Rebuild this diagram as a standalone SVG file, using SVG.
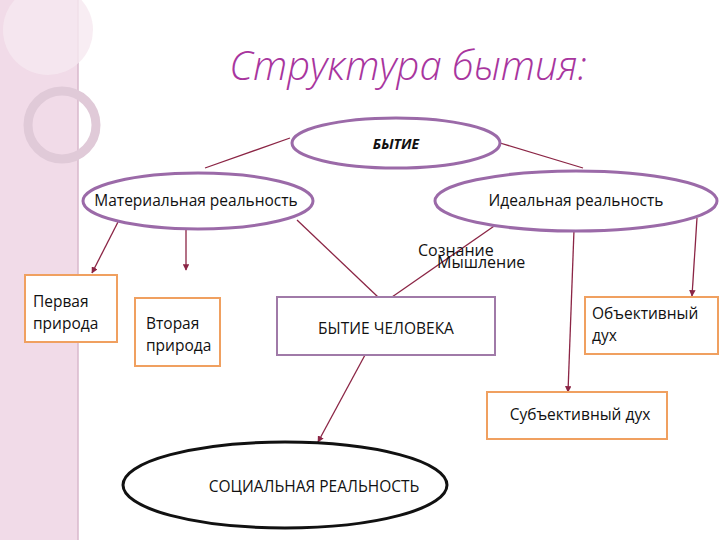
<svg xmlns="http://www.w3.org/2000/svg" width="720" height="540" viewBox="0 0 720 540">
<defs>
<style>
text{font-family:"Open Sans","Noto Sans","Liberation Sans",sans-serif;fill:#111;font-size:15.5px}
.pe{fill:#fff;stroke:#9b6aa8;stroke-width:3}
.ob{fill:#fff;stroke:#f0a060;stroke-width:2}
.pb{fill:#fff;stroke:#a07aa8;stroke-width:2}
.c{stroke:#8b2545;stroke-width:1.3;fill:none}
</style>
<marker id="a" viewBox="0 0 10 10" refX="9" refY="5" markerWidth="5" markerHeight="5" orient="auto"><path d="M0,0L10,5L0,10z" fill="#8b2545"/></marker>
</defs>
<rect width="720" height="540" fill="#fff"/>
<rect width="78" height="540" fill="#f1dbe8"/>
<line x1="78" y1="0" x2="78" y2="540" stroke="#d9b8cc" stroke-width="1.5"/>
<circle cx="48" cy="30" r="45" fill="#f6e8f0" opacity="0.8"/>
<circle cx="62" cy="125" r="34" fill="none" stroke="#e0cad8" stroke-width="9"/>
<text x="408" y="80" text-anchor="middle" style="font-size:40px;font-style:italic;fill:#a8359e;font-weight:300">Структура бытия:</text>
<g id="connectors">
<path class="c" d="M290,138L205,168"/>
<path class="c" d="M500,143L583,168"/>
<path class="c" d="M118,222L92,273" marker-end="url(#a)"/>
<path class="c" d="M186,230L186,270" marker-end="url(#a)"/>
<path class="c" d="M297,220L378,297"/>
<path class="c" d="M500,222L392,297"/>
<path class="c" d="M574,230L568,392" marker-end="url(#a)"/>
<path class="c" d="M697,218L692,296" marker-end="url(#a)"/>
<path class="c" d="M365,355L318,442" marker-end="url(#a)"/>
</g>
<g id="n-bytie"><ellipse class="pe" cx="396" cy="143" rx="104" ry="25"/><text x="396" y="149" text-anchor="middle" style="font-weight:bold;font-style:italic;font-size:14px">БЫТИЕ</text></g>
<g id="n-mat"><ellipse class="pe" cx="198" cy="201" rx="115" ry="28"/><text x="196" y="206" text-anchor="middle">Материальная реальность</text></g>
<g id="n-ideal"><ellipse class="pe" cx="576" cy="201" rx="141" ry="30"/><text x="576" y="206" text-anchor="middle">Идеальная реальность</text></g>
<text x="418" y="256" style="font-size:16px">Сознание</text>
<text x="437" y="268" style="font-size:16px">Мышление</text>
<g id="n-first"><rect class="ob" x="25" y="275" width="92" height="67"/><text x="33" y="307">Первая</text><text x="33" y="329">природа</text></g>
<g id="n-second"><rect class="ob" x="135" y="298" width="85" height="68"/><text x="146" y="329">Вторая</text><text x="146" y="351">природа</text></g>
<g id="n-human"><rect class="pb" x="277" y="297" width="218" height="58"/><text x="386" y="334" text-anchor="middle">БЫТИЕ ЧЕЛОВЕКА</text></g>
<g id="n-obj"><rect class="ob" x="585" y="297" width="133" height="57"/><text x="592" y="319">Объективный</text><text x="592" y="341">дух</text></g>
<g id="n-subj"><rect class="ob" x="487" y="392" width="180" height="47"/><text x="580" y="420" text-anchor="middle">Субъективный дух</text></g>
<g id="n-social"><ellipse cx="285" cy="485" rx="162" ry="43" fill="#fff" stroke="#111" stroke-width="3"/><text x="314" y="492" text-anchor="middle">СОЦИАЛЬНАЯ РЕАЛЬНОСТЬ</text></g>
</svg>
